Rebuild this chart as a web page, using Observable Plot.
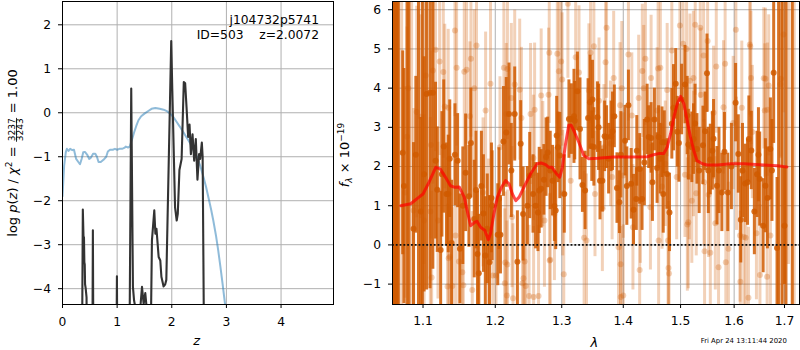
<!DOCTYPE html>
<html><head><meta charset="utf-8">
<script src="https://cdn.jsdelivr.net/npm/d3@7"></script>
<script src="https://cdn.jsdelivr.net/npm/@observablehq/plot@0.6"></script>
<style>
html,body{margin:0;padding:0;background:#fff;}
#wrap{position:relative;width:800px;height:350px;overflow:hidden;font-family:"DejaVu Sans";}
#wrap svg{position:absolute;top:0;}
</style></head><body><div id="wrap"></div>
<script>
// ---------- left panel: p(z) ----------
const zTicks = [0, 1, 2, 3, 4];
const pTicks = [-4, -3, -2, -1, 0, 1, 2];
const zBlue = [0,0.03,0.06,0.08,0.11,0.14,0.18,0.21,0.25,0.29,0.32,0.35,0.38,0.41,0.45,0.49,0.52,0.56,0.6,0.63,0.66,0.7,0.75,0.8,0.83,0.87,0.92,0.96,1.0,1.04,1.09,1.13,1.16,1.2,1.23,1.27,1.31,1.35,1.39,1.44,1.5,1.57,1.63,1.7,1.78,1.85,1.92,1.97,2.03,2.09,2.15,2.21,2.28,2.34,2.4,2.46,2.52,2.58,2.63,2.67,2.72,2.76,2.81,2.85,2.89,2.93,2.97,3.0,3.05];
const pBlue = [-1.9,-1.2,-0.9,-0.82,-0.87,-0.82,-0.85,-0.84,-1.05,-1.12,-1.17,-1.05,-0.9,-0.89,-0.95,-1.05,-1.02,-0.93,-0.93,-1.0,-1.12,-1.12,-1.07,-1.0,-0.88,-0.84,-0.84,-0.82,-0.84,-0.82,-0.82,-0.8,-0.77,-0.79,-0.77,-0.62,-0.45,-0.3,-0.17,-0.08,-0.02,0.04,0.09,0.11,0.09,0.07,0.03,-0.02,-0.1,-0.21,-0.32,-0.44,-0.58,-0.7,-0.85,-1.0,-1.2,-1.46,-1.7,-1.92,-2.2,-2.45,-2.8,-3.13,-3.5,-3.89,-4.3,-4.6,-5.2];
const zBlack = [0,0.355,0.372,0.385,0.393,0.40,0.407,0.413,0.425,0.44,0.45,0.545,0.556,0.567,0.985,0.996,1.006,1.222,1.258,1.289,1.31,1.33,1.37,1.42,1.455,1.485,1.515,1.545,1.575,1.606,1.637,1.68,1.70,1.72,1.76,1.79,1.81,1.85,1.88,1.90,1.99,2.01,2.06,2.09,2.11,2.14,2.18,2.22,2.245,2.27,2.30,2.325,2.35,2.38,2.41,2.44,2.47,2.50,2.52,2.55,2.565,2.585,2.6,4.9];
const pBlack = [-6,-6,-2.2,-2.85,-2.83,-3.4,-3.45,-3.9,-4.0,-4.2,-6,-6,-2.67,-6,-6,-3.72,-6,-6,0.55,-3.96,-4.27,-4.4,-4.5,-4.5,-3.96,-4.35,-4.1,-4.5,-6,-6,-2.9,-2.22,-2.75,-2.64,-3.28,-3.36,-3.73,-3.95,-3.9,-3.8,1.63,0.5,-2.15,-2.45,-2.3,-1.3,-1.05,0.7,0.67,0.13,-0.55,-0.27,-0.94,-0.49,-1.09,-0.6,-1.52,-0.94,-1.05,-0.68,-1.0,-4.4,-6,-6];

// ---------- right panel: spectrum ----------
const lamTicks = [1.1, 1.2, 1.3, 1.4, 1.5, 1.6, 1.7];
const fTicks = [-1, 0, 1, 2, 3, 4, 5, 6];
const modelLam = [1.071,1.0838,1.0947,1.1,1.108,1.117,1.123,1.130,1.137,1.143,1.149,1.156,1.160,1.165,1.171,1.174,1.179,1.185,1.19,1.193,1.198,1.203,1.209,1.215,1.22,1.225,1.23,1.235,1.242,1.252,1.262,1.268,1.275,1.28,1.285,1.292,1.297,1.301,1.306,1.311,1.315,1.32,1.327,1.335,1.343,1.357,1.384,1.412,1.441,1.452,1.461,1.47,1.476,1.482,1.488,1.494,1.5,1.506,1.512,1.518,1.524,1.53,1.54,1.549,1.568,1.593,1.619,1.658,1.685,1.705];
const modelFlux = [1.0,1.05,1.22,1.30,1.6,1.98,1.94,1.73,1.51,1.47,1.48,1.22,0.88,0.49,0.58,0.6,0.45,0.37,0.13,0.28,0.79,1.22,1.47,1.64,1.56,1.3,1.13,1.22,1.47,1.81,2.07,2.09,2.05,1.98,1.98,1.81,1.73,1.98,2.58,3.05,3.05,2.88,2.62,2.28,2.2,2.21,2.24,2.24,2.25,2.3,2.33,2.33,2.49,2.83,3.26,3.6,3.79,3.6,3.17,2.75,2.41,2.15,2.07,2.04,2.04,2.07,2.07,2.04,2.02,1.99];

const darkLam = [1.0734,1.0875,1.0905,1.0970,1.1014,1.1047,1.1093,1.1131,1.1167,1.1190,1.1236,1.1278,1.1315,1.1339,1.1385,1.1431,1.1468,1.1500,1.1579,1.1625,1.1653,1.1700,1.1746,1.1764,1.1801,1.1857,1.1885,1.1917,1.1954,
1.2036,1.2075,1.2119,1.2200,1.2234,1.2284,1.2324,1.2373,1.2409,1.2473,1.2508,1.2558,1.2597,1.2633,1.2682,1.2723,1.2757,1.2782,1.2821,1.2857,1.2906,1.2921,1.2941,1.3113,1.3152,1.3205,1.3248,1.3371,1.3419,1.3479,
1.3490,1.3571,1.3613,1.3652,1.3689,1.3721,1.3797,1.3850,1.3894,1.3935,1.4030,1.4087,1.4134,1.4174,1.4221,1.4279,1.4320,1.4408,1.4435,1.4477,1.4535,1.4582,1.4609,1.4669,1.4709,1.4756,1.4801,1.4843,1.4913,1.4941,1.5019,1.5080,1.5142,1.5205,
1.5235,1.5299,1.5410,1.5485,1.5547,1.5608,1.5672,1.5765,1.5814,1.5877,1.6028,1.6080,1.6128,1.6214,1.6260,1.6334,1.6394,1.6448,1.6500,1.6568,1.6614,1.6714,1.6780,1.6848,1.7000];
const darkFlux = [2.35,0.41,2.30,0.85,1.80,3.85,3.88,3.88,2.15,1.41,-0.13,2.51,1.30,1.30,0.05,2.30,2.15,-0.10,1.84,1.24,2.60,0.66,-0.23,-0.72,1.50,-0.27,0.41,-0.44,1.00,
0.26,0.26,2.64,3.34,1.90,3.34,-0.43,2.58,0.79,1.00,1.77,1.30,1.00,0.83,1.43,1.66,2.24,2.36,1.90,1.64,0.88,2.79,2.49,3.21,3.21,3.17,3.92,1.39,3.24,2.52,
3.71,3.26,1.64,1.64,2.77,2.75,2.77,3.28,1.45,1.09,2.66,3.56,1.56,0.90,1.17,1.94,1.17,3.20,2.75,2.73,3.20,1.96,2.75,2.62,2.62,1.81,0.83,3.09,4.11,2.89,3.71,4.09,2.56,2.49,
2.70,2.45,2.54,4.38,2.18,2.71,1.51,1.34,2.38,1.34,3.63,2.32,0.64,1.57,1.60,2.41,0.85,1.80,1.68,0.49,1.51,2.45,4.39,-0.08,0.49];
const darkErr = [2.6,2.2,2.0,2.4,3.0,5.0,5.0,4.5,2.0,1.6,1.5,1.7,1.3,1.5,1.6,1.3,1.2,1.4,1.5,1.3,1.4,1.5,1.6,1.5,1.4,1.5,1.4,1.7,1.4,
1.3,1.0,1.4,1.3,1.2,1.2,1.3,1.1,1.2,1.0,1.1,1.0,1.1,1.0,1.0,0.9,1.0,0.9,1.0,0.9,1.0,1.0,0.9,1.0,0.9,1.0,1.0,1.0,1.0,0.9,
1.0,0.9,1.0,0.8,0.9,0.8,0.9,0.8,0.9,0.8,0.9,0.9,0.9,0.9,0.8,0.9,0.8,0.9,0.8,0.9,0.8,0.9,0.8,0.9,0.8,0.9,1.0,0.9,0.9,0.9,0.9,1.0,0.9,0.9,
0.9,0.9,1.0,1.0,0.9,1.0,1.0,1.0,1.0,1.0,1.0,1.0,1.1,1.0,1.1,1.0,1.1,1.1,1.2,1.2,1.2,1.3,1.8,1.8,1.5];
// further dark bars read between the ones above
const darkLam2 = [1.0750,1.1253,1.1360,1.1540,1.1726,1.1830,1.1945,1.2053,1.2160,1.2652,1.2886,1.2970,1.3040,1.3193,1.3289,1.3328,1.3450,1.3513,1.3590,1.3755,1.3820,1.3960,1.4060,1.4230,1.4360,1.4500,1.4635,1.4690,1.4873,1.4970,1.5120,1.5264,1.5340,1.5450,1.5510,1.5586,1.5710,1.5947,1.6162,1.6286,1.6475,1.6654,1.6745];
const darkFlux2 = [1.5,1.8,2.2,1.0,1.4,0.8,1.2,1.18,2.87,1.39,0.99,2.28,1.30,3.28,2.96,1.53,3.64,2.5,3.0,2.2,2.9,2.3,1.5,2.4,2.1,1.6,2.2,1.3,3.5,2.6,3.3,3.1,1.9,2.9,1.9,2.4,1.9,2.0,1.9,2.7,2.3,1.2,1.9];
const darkErr2 = [3.0,1.6,1.5,1.5,1.5,1.5,1.4,1.3,1.4,1.1,0.9,1.1,1.0,1.2,1.3,0.7,1.2,1.0,1.1,0.9,1.0,1.1,1.0,0.9,1.1,1.0,0.9,1.0,1.1,1.0,1.0,1.0,1.1,1.0,1.1,1.0,1.1,1.1,1.2,1.1,1.2,1.3,1.3];

const lightLam = [1.1431,1.1732,1.1167,1.1222,1.1131,1.1454,1.1560,1.1593,1.1653,1.1272,1.1037,1.0807,1.1700,1.1931,1.0917,1.1292,1.1339,1.1861,1.1639,1.0970,1.0790,1.1107,1.0764,1.0876,1.1098,1.1014,1.1440,1.1360,1.1486,1.1533,1.1330,1.1395,1.1547,1.1672,1.1825,1.1903,1.1964,
1.2125,1.2284,1.2358,1.2234,1.2160,1.2384,1.2806,1.2955,1.2991,1.3006,1.3097,1.3459,1.3432,1.2795,1.2682,1.2582,1.2068,1.2707,1.2564,1.3141,1.3015,1.2886,1.2732,1.2245,1.3394,1.2010,1.2175,1.2433,1.2139,1.2400,1.2448,1.2169,1.2259,1.2498,1.2567,1.2642,1.2821,
1.3721,1.3705,1.3513,1.3839,1.4087,1.4378,1.4477,1.4639,1.4349,1.4262,1.4843,1.4988,1.5046,1.5109,1.5171,1.5234,1.3597,1.3946,1.4145,1.4582,1.3678,1.3786,1.4726,1.4930,1.5080,1.5160,1.3531,1.3813,1.4000,1.4291,1.4465,1.4669,1.3652,1.5123,1.4609,1.3920,1.4784,1.4793,1.3955,1.4279,1.4000,1.3957,1.4164,
1.5267,1.5360,1.6033,1.5422,1.5827,1.5659,1.6314,1.6614,1.6927,1.6680,1.6328,1.5370,1.5608,1.6148,1.6600,1.5796,1.6354,1.5981,1.5235,1.5430,1.5286,1.5515,1.6045,1.5205,1.5641,1.6113,1.6225,1.6435,1.6714,1.5440,1.5702,1.5840,1.6120,1.6648,1.6278];
const lightFlux = [5.47,5.09,4.98,4.68,4.45,4.52,4.42,4.47,4.75,4.41,4.32,4.00,4.00,4.11,3.39,3.53,3.50,3.43,3.28,3.27,2.76,2.55,1.34,0.88,0.85,0.62,0.24,-0.30,-0.42,-0.70,-1.06,-1.05,-1.03,-1.15,1.34,0.19,-0.78,
4.52,4.09,3.96,3.75,3.34,3.24,4.90,4.43,4.68,4.22,6.15,4.90,3.94,3.83,3.81,3.45,2.49,2.06,2.22,1.64,1.32,0.79,0.62,0.71,0.11,-0.78,-0.50,-0.42,-0.98,-0.98,-1.05,-1.29,-1.36,-1.30,-1.33,-1.30,-0.38,
5.54,4.66,5.07,4.26,4.86,4.75,4.26,4.52,4.00,3.75,4.96,5.60,5.13,5.00,4.19,4.26,3.68,3.56,3.30,3.43,2.49,2.58,2.07,1.73,1.79,1.73,1.30,1.73,1.77,1.13,0.96,1.49,0.92,0.52,0.11,-0.06,-0.59,-0.73,-0.49,-0.64,-1.29,-1.33,0.45,
5.62,5.54,5.49,4.83,4.62,4.55,5.06,4.24,4.24,4.07,4.26,3.83,3.37,3.50,3.43,3.51,2.88,3.11,2.32,1.60,1.32,1.28,2.07,1.13,0.55,0.24,0.18,0.30,0.24,-0.16,-0.57,-0.44,-0.94,-0.81,-1.35];
const lightErr = [2.2,2.2,2.6,2.4,2.9,2.0,2.0,1.9,2.0,2.2,2.9,2.9,2.0,2.1,2.7,2.1,2.0,2.0,1.9,2.6,2.8,2.4,2.7,2.6,2.4,2.7,1.9,2.0,1.9,2.0,2.1,2.0,1.9,2.0,1.9,2.0,2.0,
2.0,1.9,1.8,1.9,1.8,1.8,1.8,1.8,1.9,1.7,1.9,1.8,1.7,1.7,1.7,1.7,1.8,1.6,1.6,1.6,1.6,1.7,1.7,1.8,1.7,1.9,1.9,1.8,1.9,1.8,1.8,1.9,1.9,1.8,1.8,1.8,1.7,
1.8,1.7,1.7,1.7,1.7,1.7,1.6,1.7,1.6,1.6,1.7,1.8,1.7,1.7,1.7,1.7,1.6,1.6,1.6,1.6,1.6,1.6,1.6,1.6,1.6,1.6,1.6,1.6,1.6,1.6,1.6,1.6,1.6,1.7,1.7,1.7,1.7,1.7,1.7,1.7,1.8,1.8,1.6,
1.8,1.8,1.8,1.7,1.7,1.7,1.8,1.8,2.0,1.8,1.7,1.7,1.7,1.7,1.7,1.7,1.7,1.7,1.6,1.6,1.6,1.6,1.7,1.6,1.7,1.7,1.7,1.7,1.8,1.7,1.7,1.7,1.8,1.8,1.8];
const lightLam2 = [1.2177,1.2521,1.2931,1.3220,1.3273,1.3975,1.4325,1.4600,1.4760,1.5497,1.6304,1.6581,1.6655,1.6980,1.6914,1.1115,1.1200,1.1345,1.2145,1.2415,1.2812,1.3032,1.3355,1.4775,1.5140,1.5547,1.5890,1.6187,1.6505];
const lightFlux2 = [4.49,3.34,4.88,4.79,4.40,4.00,4.44,4.50,3.95,5.20,5.11,4.25,3.45,5.37,4.10,-0.83,0.62,-0.34,-0.45,-0.85,-0.40,-0.75,0.18,0.11,0.58,-0.20,-0.10,0.20,-0.77];
const lightErr2 = [1.8,1.8,1.8,1.8,1.7,1.7,1.7,1.7,1.7,1.8,1.8,1.8,1.7,2.0,1.9,2.2,2.0,2.0,1.8,1.8,1.7,1.7,1.7,1.7,1.7,1.7,1.7,1.8,1.8];

// noisy detector edges: error bars larger than the axis range
const edgeDarkLam = [1.0606,1.0622,1.0636,1.0650,1.0665,1.0679,1.0790,1.0815,1.0940,1.0990,1.6880,1.6950,1.7030,1.7160];
const edgeDarkFlux = [2.5,1.8,3.0,2.2,1.5,2.8,3.2,1.9,2.4,2.6,2.2,3.4,1.6,2.9];
const edgeDarkErr = [8,8,8,8,8,8,7,7,8,7,8,8,8,8];
const edgeLightLam = [1.0655,1.0720,1.0850,1.1010,1.6970,1.7080,1.7200];
const edgeLightFlux = [3.0,2.5,2.0,3.5,3.0,3.5,2.0];
const edgeLightErr = [5,5,4.5,4,4.5,4,5];

// ---------- texts ----------
const annot = ["j104732p5741", "ID=503\u00a0\u00a0\u00a0\u00a0z=2.0072"];
const fracNum = "3237", fracDen = "3243", chiVal = "1.00";
const stamp = "Fri Apr 24 13:11:44 2020";

// ---------- build ----------
const zip2 = (a, b, ka, kb) => a.slice(0, Math.min(a.length, b.length)).map((v, i) => ({[ka]: v, [kb]: b[i]}));
const zip3 = (a, b, c) => a.slice(0, Math.min(a.length, b.length, c.length)).map((v, i) => ({lam: v, f: b[i], e: c[i]}));
const blue = zip2(zBlue, pBlue, "z", "p");
const black = zip2(zBlack, pBlack, "z", "p");
const model = zip2(modelLam, modelFlux, "lam", "f");
const dark = zip3(darkLam, darkFlux, darkErr).concat(zip3(darkLam2, darkFlux2, darkErr2));
const light = zip3(lightLam, lightFlux, lightErr).concat(zip3(lightLam2, lightFlux2, lightErr2));
const edgeDark = zip3(edgeDarkLam, edgeDarkFlux, edgeDarkErr);
const edgeLight = zip3(edgeLightLam, edgeLightFlux, edgeLightErr);

const fmtInt = d => (d < 0 ? "\u2212" + Math.abs(d) : String(d));
const fmt1 = d => d.toFixed(1);
const GRID = {stroke: "#b0b0b0", strokeOpacity: 1, strokeWidth: 1};
const OR = "#d05a00";
const style = {fontFamily: "DejaVu Sans", fontSize: "12.3px", color: "#000", background: "none", overflow: "visible"};
const lo = d => d.f - d.e, hi = d => d.f + d.e;

const left = Plot.plot({
  width: 340, height: 350, marginLeft: 62, marginRight: 7, marginTop: 1, marginBottom: 46,
  style,
  x: {domain: [0, 4.96]},
  y: {domain: [-4.36, 2.53]},
  marks: [
    Plot.gridX({ticks: zTicks, ...GRID}),
    Plot.gridY({ticks: pTicks, ...GRID}),
    Plot.line(blue, {x: "z", y: "p", stroke: "#1f77b4", strokeOpacity: 0.5, strokeWidth: 2, clip: true}),
    Plot.line(black, {x: "z", y: "p", stroke: "#333", strokeWidth: 2.1, clip: true}),
    Plot.frame({stroke: "#000"}),
    Plot.axisX({ticks: zTicks, tickSize: 4, tickPadding: 8.5, tickFormat: fmtInt, label: null}),
    Plot.axisY({ticks: pTicks, tickSize: 4, tickPadding: 7.5, tickFormat: fmtInt, label: null})
  ]
});
left.style.left = "0px";
document.getElementById("wrap").appendChild(left);

const right = Plot.plot({
  width: 470, height: 350, marginLeft: 62, marginRight: 1, marginTop: 1, marginBottom: 46,
  style,
  x: {type: "log", domain: [1.0603, 1.731]},
  y: {domain: [-1.52, 6.21]},
  marks: [
    Plot.gridX({ticks: lamTicks, ...GRID}),
    Plot.gridY({ticks: fTicks, ...GRID}),
    Plot.ruleX(light, {x: "lam", y1: lo, y2: hi, stroke: OR, strokeOpacity: 0.28, strokeWidth: 3, clip: true}),
    Plot.ruleX(edgeLight, {x: "lam", y1: lo, y2: hi, stroke: OR, strokeOpacity: 0.28, strokeWidth: 3, clip: true}),
    Plot.dot(light, {x: "lam", y: "f", r: 3, fill: OR, fillOpacity: 0.28, clip: true}),
    Plot.ruleX(dark, {x: "lam", y1: lo, y2: hi, stroke: OR, strokeOpacity: 0.85, strokeWidth: 3, clip: true}),
    Plot.ruleX(edgeDark, {x: "lam", y1: lo, y2: hi, stroke: OR, strokeOpacity: 0.85, strokeWidth: 3, clip: true}),
    Plot.dot(dark, {x: "lam", y: "f", r: 3, fill: OR, fillOpacity: 0.85, clip: true}),
    Plot.ruleY([0], {stroke: "#111", strokeWidth: 1.8, strokeDasharray: "1.8,2"}),
    Plot.line(model, {x: "lam", y: "f", stroke: "#ff0000", strokeOpacity: 0.7, strokeWidth: 3, clip: true}),
    Plot.frame({stroke: "#000"}),
    Plot.axisX({ticks: lamTicks, tickSize: 4, tickPadding: 8, tickFormat: fmt1, label: null}),
    Plot.axisY({ticks: fTicks, tickSize: 4, tickPadding: 7.5, tickFormat: fmtInt, label: null})
  ]
});
right.style.left = "330px";
document.getElementById("wrap").appendChild(right);

// ---------- overlay texts ----------
const ov = d3.select("#wrap").append("svg").attr("width", 800).attr("height", 350)
  .style("left", "0px").attr("font-family", "DejaVu Sans").attr("fill", "#000");

ov.append("text").attr("x", 319).attr("y", 24).attr("text-anchor", "end").attr("font-size", 12.3).text(annot[0]);
ov.append("text").attr("x", 319).attr("y", 39.3).attr("text-anchor", "end").attr("font-size", 12.3).text(annot[1]);

ov.append("text").attr("x", 196.7).attr("y", 345).attr("text-anchor", "middle").attr("font-size", 13).attr("font-style", "italic").text("z");
ov.append("text").attr("x", 594.3).attr("y", 346.5).attr("text-anchor", "middle").attr("font-size", 13).attr("font-style", "italic").text("\u03bb");
ov.append("text").attr("x", 700.7).attr("y", 342.5).attr("font-size", 6.9).text(stamp);

// left y label with a stacked fraction
const gL = ov.append("g").attr("transform", "translate(16.5,153) rotate(-90)");
const t1 = gL.append("text").attr("font-size", 13);
t1.append("tspan").text("log ");
t1.append("tspan").attr("font-style", "italic").text("p");
t1.append("tspan").text("(");
t1.append("tspan").attr("font-style", "italic").text("z");
t1.append("tspan").text(") / ");
t1.append("tspan").attr("font-style", "italic").text("\u03c7");
t1.append("tspan").attr("font-size", 9).attr("dy", -5).text("2");
t1.append("tspan").attr("dy", 5).text("\u00a0=\u00a0");
const L1 = t1.node().getComputedTextLength();
const num = gL.append("text").attr("font-size", 9).attr("text-anchor", "middle").text(fracNum);
const den = gL.append("text").attr("font-size", 9).attr("text-anchor", "middle").text(fracDen);
const Lf = Math.max(num.node().getComputedTextLength(), den.node().getComputedTextLength()) + 2;
const t2 = gL.append("text").attr("font-size", 13).text("\u00a0=\u00a0" + chiVal);
const L2 = t2.node().getComputedTextLength();
const x0 = -(L1 + Lf + L2) / 2;
t1.attr("x", x0);
num.attr("x", x0 + L1 + Lf / 2).attr("y", -1.5);
den.attr("x", x0 + L1 + Lf / 2).attr("y", 6.5);
gL.append("line").attr("x1", x0 + L1 + 0.5).attr("x2", x0 + L1 + Lf - 0.5).attr("y1", 0).attr("y2", 0).attr("stroke", "#000").attr("stroke-width", 0.8);
t2.attr("x", x0 + L1 + Lf);

// right y label
const gR = ov.append("g").attr("transform", "translate(349,155) rotate(-90)");
const tr = gR.append("text").attr("font-size", 13).attr("text-anchor", "middle");
tr.append("tspan").attr("font-style", "italic").text("f");
tr.append("tspan").attr("font-style", "italic").attr("font-size", 9).attr("dy", 3).text("\u03bb");
tr.append("tspan").attr("dy", -3).text("\u00a0\u00d7\u00a010");
tr.append("tspan").attr("font-size", 9).attr("dy", -5).text("\u221219");
</script></body></html>
